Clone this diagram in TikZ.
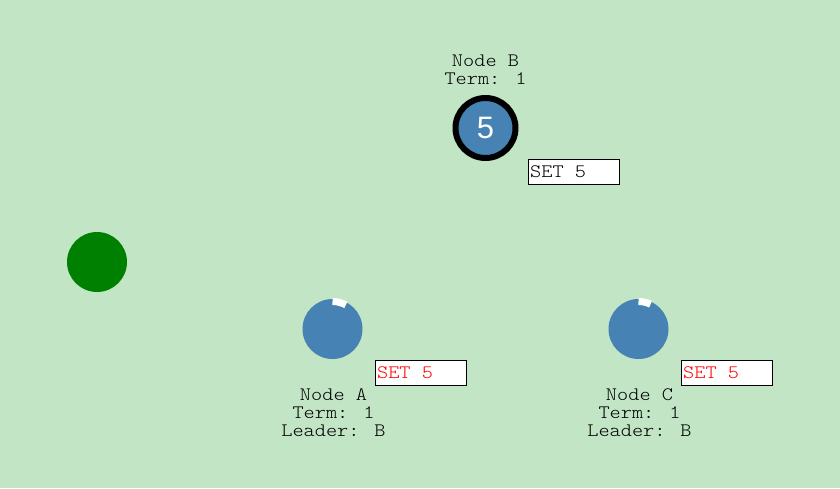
\documentclass[tikz,border=0pt]{standalone}
\usepackage{fontspec}
\newfontfamily\courfont[FakeStretch=1.12]{Latin Modern Mono Light}
\setsansfont{Liberation Sans}
\definecolor{bg}{RGB}{193,229,197}
\definecolor{steel}{RGB}{70,130,180}
\definecolor{darkgreen}{RGB}{0,128,0}
\definecolor{setred}{RGB}{255,0,0}
\begin{document}
\begin{tikzpicture}[x=1pt,y=-1pt,
  lbl/.style={font=\courfont\fontsize{19}{19}\selectfont, inner sep=0pt, anchor=base, text=black},
  setbox/.style={draw=black, line width=1.3pt, fill=white, anchor=north west,
    font=\courfont\fontsize{19}{19}\selectfont, inner xsep=2pt, inner ysep=0pt,
    minimum height=25pt},
  peer/.style={circle, fill=steel, minimum size=60pt, inner sep=0pt},
  tick/.style={white, line width=7pt}]
\fill[bg] (0,0) rectangle (840,488);
\useasboundingbox (0,0) rectangle (840,488);

% green circle
\node[circle, fill=darkgreen, minimum size=60pt, inner sep=0pt] (g) at (97,262) {};

% Node B (leader)
\node[peer, draw=black, line width=6pt, text=white, font=\sffamily\fontsize{31}{31}\selectfont] (b) at (485.5,128) {5};
\node[lbl] (bname) at (485.5,66.7) {Node B};
\node[lbl] (bterm) at (485.5,84.5) {Term: 1};
\node[setbox] (bset) at (527.5,158.5) {\makebox[87pt][l]{SET 5}};

% Node A
\node[peer] (a) at (332.5,329) {};
\draw[tick] ([shift={(-90:27.5)}]a.center) arc[start angle=-90, end angle=-61, radius=27.5];
\node[lbl] (aname) at (333.5,400) {Node A};
\node[lbl] (aterm) at (333.5,418.3) {Term: 1};
\node[lbl] (alead) at (333.5,436.6) {Leader: B};
\node[setbox, text=setred] (aset) at (374.5,359.5) {\makebox[87pt][l]{SET 5}};

% Node C
\node[peer] (c) at (638.5,329) {};
\draw[tick] ([shift={(-90:27.5)}]c.center) arc[start angle=-90, end angle=-64, radius=27.5];
\node[lbl] (cname) at (639.5,400) {Node C};
\node[lbl] (cterm) at (639.5,418.3) {Term: 1};
\node[lbl] (clead) at (639.5,436.6) {Leader: B};
\node[setbox, text=setred] (cset) at (680.5,359.5) {\makebox[87pt][l]{SET 5}};
\end{tikzpicture}
\end{document}
